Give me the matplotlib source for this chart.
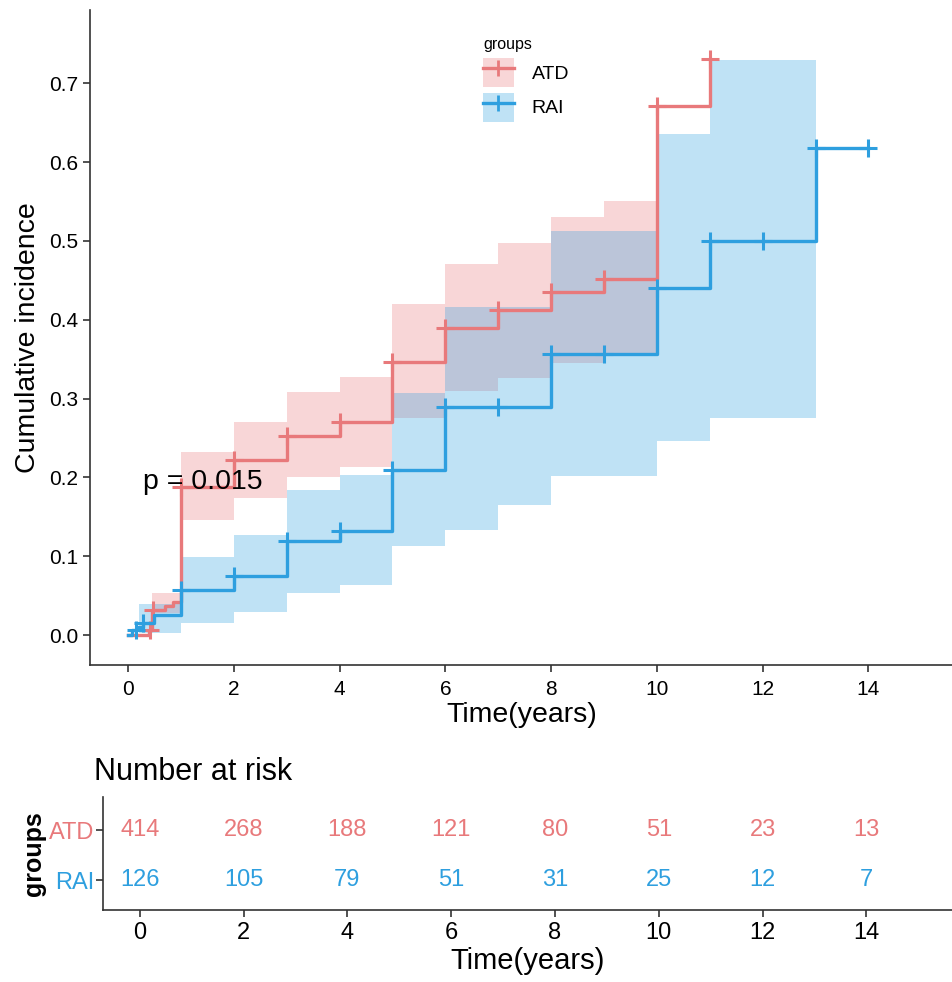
import numpy as np
import matplotlib
matplotlib.use("Agg")
import matplotlib.pyplot as plt
from matplotlib.patches import Patch
from matplotlib.lines import Line2D

plt.rcParams['font.family'] = ['Liberation Sans', 'DejaVu Sans']

# cumulative incidence step curves (value holds from t until the next t)
atd_t = [0, 0.4, 0.45, 0.7, 0.85, 1, 2, 3, 4, 5, 6, 7, 8, 9, 10, 11]
atd_y = [0, 0.006, 0.032, 0.037, 0.042, 0.188, 0.222, 0.253, 0.270, 0.347,
         0.390, 0.412, 0.435, 0.452, 0.671, 0.731]
atd_cens = [0.42, 0.47, 1, 2, 3, 4, 5, 6, 7, 8, 9, 10, 11]

rai_t = [0, 0.08, 0.17, 0.28, 0.5, 1, 2, 3, 4, 5, 6, 8, 10, 11, 13, 14]
rai_y = [0, 0.006, 0.010, 0.015, 0.025, 0.057, 0.075, 0.119, 0.132, 0.209,
         0.289, 0.356, 0.440, 0.500, 0.618, 0.618]
rai_cens = [0.15, 0.28, 1, 2, 3, 4, 5, 6, 7, 8, 9, 10, 11, 12, 13, 14]

# confidence bands (step segments)
atd_ci_t = [0.45, 1, 2, 3, 4, 5, 6, 7, 8, 9, 10]
atd_lo = [0.028, 0.146, 0.174, 0.200, 0.213, 0.276, 0.310, 0.326, 0.345, 0.357]
atd_hi = [0.053, 0.232, 0.270, 0.308, 0.328, 0.420, 0.471, 0.497, 0.530, 0.551]

rai_ci_t = [0.2, 1, 2, 3, 4, 5, 6, 7, 8, 10, 11, 13]
rai_lo = [0.003, 0.015, 0.029, 0.053, 0.063, 0.113, 0.133, 0.165, 0.202, 0.246, 0.275]
rai_hi = [0.040, 0.099, 0.127, 0.184, 0.203, 0.307, 0.416, 0.416, 0.513, 0.636, 0.729]

risk_times = [0, 2, 4, 6, 8, 10, 12, 14]
atd_risk = [414, 268, 188, 121, 80, 51, 23, 13]
rai_risk = [126, 105, 79, 51, 31, 25, 12, 7]

red = '#E8797B'
blue = '#2E9FDF'

fig = plt.figure(figsize=(9.53, 9.82), dpi=100)
ax = fig.add_axes([0.0944, 0.3228, 0.9056, 0.667])
ax2 = fig.add_axes([0.108, 0.0733, 0.892, 0.115])


def band(ax, t, lo, hi, color):
    ax.fill_between(t, lo + [lo[-1]], hi + [hi[-1]], step='post',
                    color=color, alpha=0.3, linewidth=0)


def level(ts, ys, c):
    return ys[np.searchsorted(ts, c, side='right') - 1]


band(ax, atd_ci_t, atd_lo, atd_hi, red)
ax.step(atd_t, atd_y, where='post', color=red, lw=2.4)
ax.plot(atd_cens, [level(atd_t, atd_y, c) for c in atd_cens],
        '+', color=red, ms=13, mew=2.2)

band(ax, rai_ci_t, rai_lo, rai_hi, blue)
ax.step(rai_t, rai_y, where='post', color=blue, lw=2.4)
ax.plot(rai_cens, [level(rai_t, rai_y, c) for c in rai_cens],
        '+', color=blue, ms=13, mew=2.2)

ax.text(0.28, 0.194, 'p = 0.015', fontsize=20.5, va='center', ha='left')

ax.set_xlim(-0.72, 15.6)
ax.set_ylim(-0.038, 0.793)
ax.set_xticks(range(0, 15, 2))
ax.set_yticks(np.arange(0, 0.71, 0.1))
ax.set_yticklabels(['%.1f' % v for v in np.arange(0, 0.71, 0.1)])
ax.tick_params(labelsize=15, length=5, width=1.2, color='#333333')
ax.tick_params(axis='x', pad=6)
ax.set_xlabel('Time(years)', fontsize=20.5, labelpad=2)
ax.set_ylabel('Cumulative incidence', fontsize=20.5, labelpad=6)
for s in ['top', 'right']:
    ax.spines[s].set_visible(False)
for s in ['left', 'bottom']:
    ax.spines[s].set_linewidth(1.2)
    ax.spines[s].set_color('#333333')

handles = [(Patch(facecolor=red, alpha=0.3), Line2D([], [], color=red, lw=2.4, marker='+', ms=12, mew=2)),
           (Patch(facecolor=blue, alpha=0.3), Line2D([], [], color=blue, lw=2.4, marker='+', ms=12, mew=2))]
leg = ax.legend(handles, ['ATD', 'RAI'], title='groups', loc='upper left',
                bbox_to_anchor=(0.435, 0.985), frameon=False, fontsize=14,
                title_fontsize=11.5, handlelength=1.6, handleheight=1.9,
                labelspacing=0.3, handletextpad=0.9)
leg._legend_box.align = 'left'

# risk table
narrow = ['Liberation Sans Narrow', 'Liberation Sans']
for xi, n in zip(risk_times, atd_risk):
    ax2.text(xi, 2, str(n), color=red, ha='center', va='center', fontsize=17, family=narrow)
for xi, n in zip(risk_times, rai_risk):
    ax2.text(xi, 1, str(n), color=blue, ha='center', va='center', fontsize=17, family=narrow)
ax2.set_xlim(-0.71, 15.67)
ax2.set_ylim(0.4, 2.66)
ax2.set_xticks(risk_times)
ax2.set_yticks([2, 1])
ax2.set_yticklabels(['ATD', 'RAI'], family=narrow, fontsize=17)
ax2.get_yticklabels()[0].set_color(red)
ax2.get_yticklabels()[1].set_color(blue)
for lab in ax2.get_xticklabels():
    lab.set_family(narrow)
ax2.tick_params(axis='x', labelsize=17, length=5, width=1.2, color='#333333')
ax2.tick_params(axis='y', length=5, width=1.2, color='#333333', pad=1)
ax2.set_xlabel('Time(years)', fontsize=21, family=narrow, labelpad=2)
ax2.set_ylabel('groups', fontsize=18, fontweight='bold', labelpad=2)
ax2.set_title('Number at risk', fontsize=22, loc='left', x=-0.01, pad=12)
for s in ['top', 'right']:
    ax2.spines[s].set_visible(False)
for s in ['left', 'bottom']:
    ax2.spines[s].set_linewidth(1.2)
    ax2.spines[s].set_color('#333333')

fig.savefig('out.png', dpi=100)
